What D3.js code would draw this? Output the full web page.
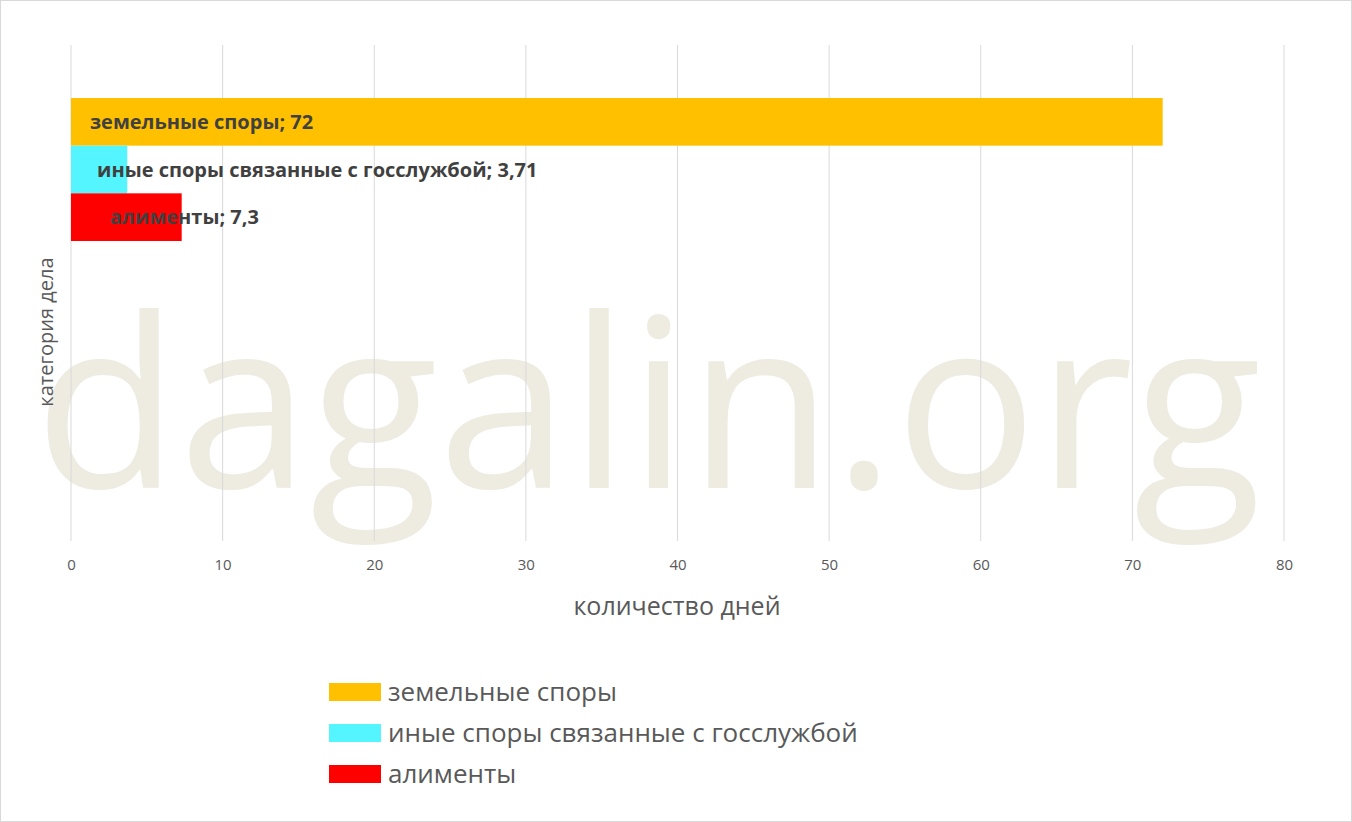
<!DOCTYPE html>
<html><head><meta charset="utf-8">
<script src="https://cdn.jsdelivr.net/npm/d3@7"></script>
<style>body{margin:0;background:#fff;font-family:"Open Sans",sans-serif}</style>
</head><body>
<svg id="c" width="1352" height="822"></svg>
<script>
const series = ["земельные споры","иные споры связанные с госслужбой","алименты"];
const values = [72, 3.71, 7.3];
const labels = ["72","3,71","7,3"];
const colors = ["#FFC000","#55F5FF","#FF0000"];
const ticks = [0,10,20,30,40,50,60,70,80];
const labelOffsets = [19, 26, 39];

const svg = d3.select("#c");
svg.append("rect").attr("x",0.5).attr("y",0.5).attr("width",1351).attr("height",821).attr("fill","#fff").attr("stroke","#d9d9d9");
const x = d3.scaleLinear().domain([0,80]).range([71,1284]);
const plotTop=45, plotBottom=541;
svg.append("text").attr("x",648).attr("y",488).attr("text-anchor","middle")
  .attr("font-size",236).attr("fill","#EEEBE1").attr("font-family","Open Sans").text("dagalin.org");
svg.append("g").selectAll("line").data(ticks).join("line")
  .attr("x1",d=>x(d)).attr("x2",d=>x(d)).attr("y1",plotTop).attr("y2",plotBottom)
  .attr("stroke","#d9d9d9").attr("stroke-width",1);
const axis = d3.axisBottom(x).tickValues(ticks).tickSize(0).tickPadding(18);
const ag = svg.append("g").attr("transform",`translate(0,${plotBottom})`).call(axis);
ag.select(".domain").remove();
ag.selectAll("text").attr("font-size",15).attr("fill","#595959").attr("font-family","Open Sans");
const y = d3.scaleBand().domain(series).range([98,241]);
svg.append("g").selectAll("rect").data(series).join("rect")
  .attr("x",x(0)).attr("y",d=>y(d)).attr("height",y.bandwidth())
  .attr("width",(d,i)=>x(values[i])-x(0)).attr("fill",(d,i)=>colors[i]);
svg.append("g").selectAll("text").data(series).join("text")
  .attr("x",(d,i)=>x(0)+labelOffsets[i]).attr("y",d=>y(d)+y.bandwidth()/2).attr("dy","0.35em")
  .attr("font-size",20).attr("font-weight","bold").attr("fill","#404040")
  .text((d,i)=>d+"; "+labels[i]);
svg.append("text").attr("x",677).attr("y",615).attr("text-anchor","middle").attr("font-size",25).attr("fill","#595959").text("количество дней");
svg.append("text").attr("transform","translate(53,332) rotate(-90)").attr("text-anchor","middle").attr("font-size",20).attr("fill","#595959").text("категория дела");
const lg = svg.append("g").selectAll("g").data(series).join("g").attr("transform",(d,i)=>`translate(329,${683+i*41})`);
lg.append("rect").attr("width",52).attr("height",18).attr("fill",(d,i)=>colors[i]);
lg.append("text").attr("x",59).attr("y",9).attr("dy","0.35em").attr("font-size",26).attr("fill","#595959").text(d=>d);
</script></body></html>
